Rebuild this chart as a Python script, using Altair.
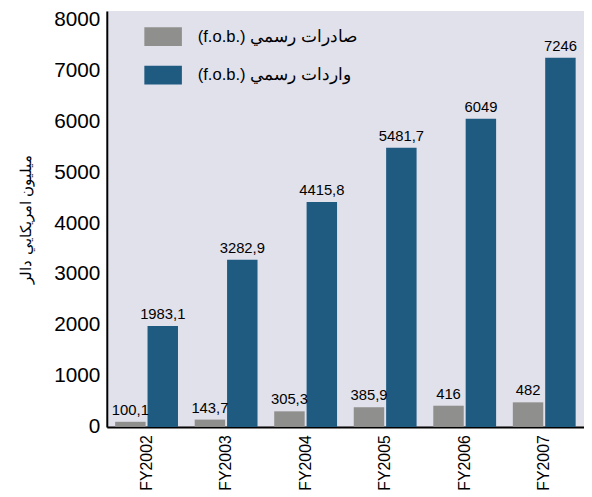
import altair as alt
import pandas as pd

years = ["FY2002", "FY2003", "FY2004", "FY2005", "FY2006", "FY2007"]
exports = [100.1, 143.7, 305.3, 385.9, 416, 482]
imports = [1983.1, 3282.9, 4415.8, 5481.7, 6049, 7246]
export_labels = ["100,1", "143,7", "305,3", "385,9", "416", "482"]
import_labels = ["1983,1", "3282,9", "4415,8", "5481,7", "6049", "7246"]
series_names = ["(f.o.b.) صادرات رسمي", "(f.o.b.) واردات رسمي"]
y_ticks = [0, 1000, 2000, 3000, 4000, 5000, 6000, 7000, 8000]
y_title = "ميليون امريكايي دالر"

rows = []
for i, y in enumerate(years):
    rows.append({"year": y, "series": series_names[0], "value": exports[i], "label": export_labels[i]})
    rows.append({"year": y, "series": series_names[1], "value": imports[i], "label": import_labels[i]})
df = pd.DataFrame(rows)

FONT = "Liberation Sans"
GRAY = "#8f8f8d"
BLUE = "#1f5a80"

base = alt.Chart(df).encode(
    x=alt.X(
        "year:N",
        sort=years,
        scale=alt.Scale(paddingInner=0.21, paddingOuter=0.105),
        axis=alt.Axis(
            title=None, labelAngle=-90, labelFontSize=16, labelFont=FONT,
            labelColor="black", ticks=False, domainColor="black", domainWidth=2,
            labelPadding=8,
        ),
    ),
    xOffset=alt.XOffset("series:N", sort=series_names,
                        scale=alt.Scale(domain=series_names, paddingInner=0.06)),
    y=alt.Y(
        "value:Q",
        scale=alt.Scale(domain=[0, 8165], nice=False),
        axis=alt.Axis(
            title=y_title, values=y_ticks, format="d", labelFontSize=21, labelFont=FONT,
            labelColor="black", ticks=False, domainColor="black", domainWidth=2,
            grid=False, labelPadding=7, titleFont=FONT, titleFontSize=15,
            titleFontWeight="normal", titleColor="black", titlePadding=20,
        ),
    ),
)

bars = base.mark_bar().encode(
    color=alt.Color(
        "series:N",
        sort=series_names,
        scale=alt.Scale(domain=series_names, range=[GRAY, BLUE]),
        legend=alt.Legend(
            title=None, orient="none", legendX=38, legendY=7,
            symbolType="M-1,-0.5H1V0.5H-1Z", symbolSize=1444,
            symbolStrokeWidth=0, labelFontSize=16.8, labelFont=FONT,
            labelColor="black", labelOffset=16, rowPadding=10, padding=0,
            labelLimit=400,
        ),
    )
)

text = base.mark_text(baseline="alphabetic", dy=-7, fontSize=15, font=FONT, color="black").encode(
    text="label:N"
)

chart = (
    alt.layer(bars, text)
    .properties(
        width=483,
        height=421,
        autosize=alt.AutoSizeParams(type="none"),
        padding={"left": 100, "top": 0, "right": 0, "bottom": 72},
    )
    .configure_view(fill="#e1e1eb", stroke=None)
)

chart.save("out.html", embed_options={"renderer": "svg", "actions": False})
